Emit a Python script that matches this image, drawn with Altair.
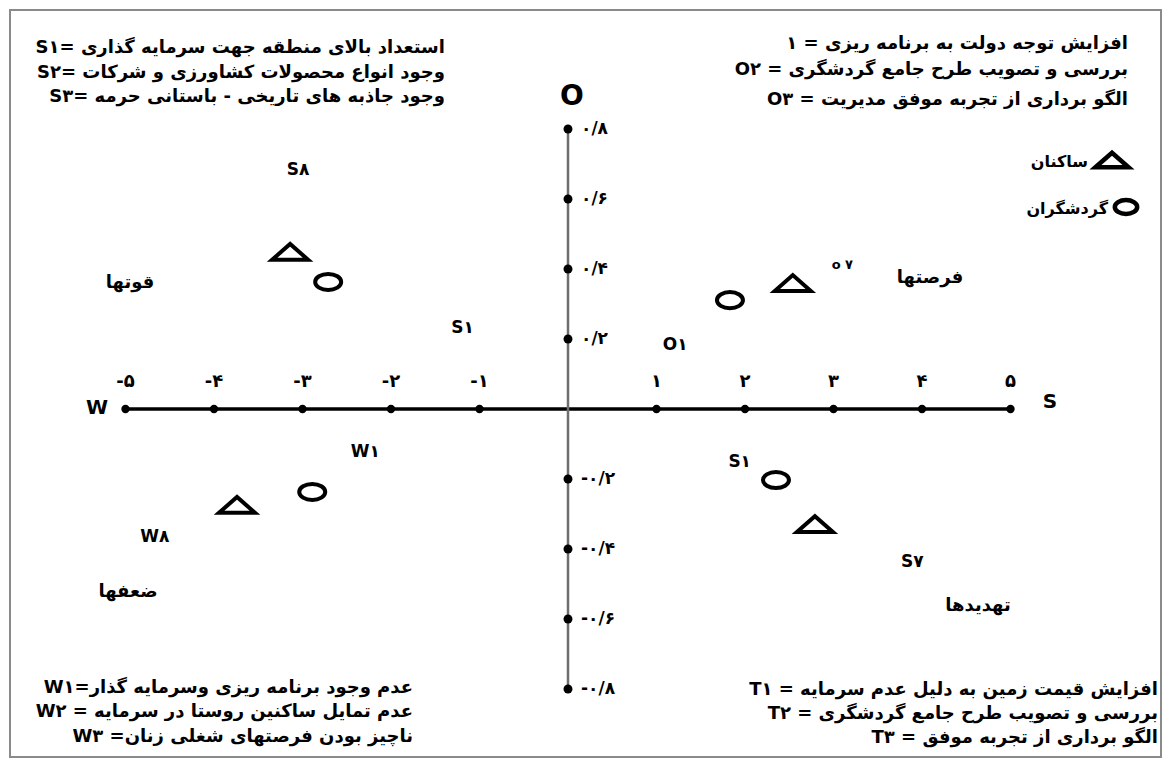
import altair as alt
import pandas as pd

# ---------------- data ----------------
x_ticks = [-5, -4, -3, -2, -1, 1, 2, 3, 4, 5]
x_tick_labels = ["-۵", "-۴", "-۳", "-۲", "-۱", "۱", "۲", "۳", "۴", "۵"]
y_ticks = [0.8, 0.6, 0.4, 0.2, -0.2, -0.4, -0.6, -0.8]
y_tick_labels = ["۰/۸", "۰/۶", "۰/۴", "۰/۲", "-۰/۲", "-۰/۴", "-۰/۶", "-۰/۸"]

# residents (ساکنان) – triangles
residents_x = [-3.14, 2.54, 2.79, -3.74]
residents_y = [0.449, 0.36, -0.329, -0.274]
# tourists (گردشگران) – circles
tourists_x = [-2.71, 1.83, 2.35, -2.89]
tourists_y = [0.363, 0.311, -0.203, -0.237]

factor_labels = ["S۸", "S۱", "O۱", "W۱", "W۸", "S۱", "S۷"]
factor_x = [-3.05, -1.19, 1.21, -2.29, -4.67, 1.94, 3.89]
factor_y = [0.683, 0.231, 0.183, -0.123, -0.366, -0.151, -0.437]
small_label = ["o ۷"]
small_label_x = [3.10]
small_label_y = [0.411]

legend_labels = ["ساکنان", "گردشگران"]

notes_strengths = [
    "S۱= استعداد بالای منطقه جهت سرمایه گذاری",
    "S۲= وجود انواع محصولات کشاورزی و شرکات",
    "S۳= وجود جاذبه های تاریخی - باستانی  حرمه",
]
notes_opportunities = [
    "۱ = افزایش توجه دولت به برنامه ریزی",
    "O۲ = بررسی و تصویب طرح جامع گردشگری",
    "O۳ = الگو برداری از تجربه موفق مدیریت",
]
notes_weaknesses = [
    "W۱=عدم وجود برنامه ریزی وسرمایه گذار",
    "W۲ = عدم تمایل ساکنین روستا در سرمایه",
    "W۳ =ناچیز بودن فرصتهای شغلی زنان",
]
notes_threats = [
    "T۱ = افزایش قیمت زمین به دلیل عدم سرمایه",
    "T۲ = بررسی و تصویب طرح جامع گردشگری",
    "T۳ = الگو برداری از تجربه موفق",
]
quadrant_titles = ["قوتها", "فرصتها", "ضعفها", "تهدیدها"]
axis_letters = ["W", "S", "O"]

# ---------------- layout ----------------
FONT = "DejaVu Sans"
LRE, PDF = "\u202a", "\u202c"   # keep left-to-right visual order of mixed lines
X0, XU = 568.0, 88.5      # page px of x=0, px per unit
Y0, YU = 409.0, 350.0     # page px of y=0, px per unit
PLOT_L, PLOT_T, PLOT_W, PLOT_H = 10, 10, 1151, 747
XD = [(PLOT_L - X0) / XU, (PLOT_L + PLOT_W - X0) / XU]
YD = [(Y0 - (PLOT_T + PLOT_H)) / YU, (Y0 - PLOT_T) / YU]


def ltr(s):
    return LRE + s + PDF


def px2x(p):
    return (p - X0) / XU


def py2y(p):
    return (Y0 - p) / YU


def X(f="x"):
    return alt.X(f"{f}:Q", scale=alt.Scale(domain=XD, nice=False, zero=False), axis=None)


def Y(f="y"):
    return alt.Y(f"{f}:Q", scale=alt.Scale(domain=YD, nice=False, zero=False), axis=None)


TRI = "M-1,0.44L0,-0.44L1,0.44Z"
ELL = "M-1,0A1,0.62,0,1,1,1,0A1,0.62,0,1,1,-1,0Z"

layers = []

# axes lines
layers.append(
    alt.Chart(pd.DataFrame({"x": [x_ticks[0]], "x2": [x_ticks[-1]], "y": [0]}))
    .mark_rule(color="black", strokeWidth=3.5)
    .encode(x=X(), x2="x2:Q", y=Y())
)
layers.append(
    alt.Chart(pd.DataFrame({"x": [0], "y": [y_ticks[-1]], "y2": [y_ticks[0]]}))
    .mark_rule(color="#6e6e6e", strokeWidth=2.5)
    .encode(x=X(), y=Y(), y2="y2:Q")
)

# tick dots
xt = pd.DataFrame({"x": x_ticks, "y": [0] * len(x_ticks), "t": [ltr(t) for t in x_tick_labels]})
yt = pd.DataFrame({"x": [0] * len(y_ticks), "y": y_ticks, "t": [ltr(t) for t in y_tick_labels]})
layers.append(alt.Chart(xt).mark_circle(color="black", size=70, opacity=1).encode(x=X(), y=Y()))
layers.append(alt.Chart(yt).mark_circle(color="black", size=80, opacity=1).encode(x=X(), y=Y()))

# tick labels
layers.append(
    alt.Chart(xt).mark_text(font=FONT, fontWeight="bold", fontSize=18, dy=-27, color="black")
    .encode(x=X(), y=Y(), text="t:N")
)
layers.append(
    alt.Chart(yt).mark_text(font=FONT, fontWeight="bold", fontSize=17, dx=13, align="left", color="black")
    .encode(x=X(), y=Y(), text="t:N")
)

# data points
res = pd.DataFrame({"x": residents_x, "y": residents_y})
tou = pd.DataFrame({"x": tourists_x, "y": tourists_y})
layers.append(
    alt.Chart(res).mark_point(shape=TRI, filled=False, stroke="black", strokeWidth=4, size=1296, opacity=1)
    .encode(x=X(), y=Y())
)
layers.append(
    alt.Chart(tou).mark_point(shape=ELL, filled=False, stroke="black", strokeWidth=4, size=676, opacity=1)
    .encode(x=X(), y=Y())
)

# factor labels
fl = pd.DataFrame({"x": factor_x, "y": factor_y, "t": [ltr(t) for t in factor_labels]})
layers.append(
    alt.Chart(fl).mark_text(font=FONT, fontWeight="bold", fontSize=17, color="black")
    .encode(x=X(), y=Y(), text="t:N")
)
sl = pd.DataFrame({"x": small_label_x, "y": small_label_y, "t": [ltr(t) for t in small_label]})
layers.append(
    alt.Chart(sl).mark_text(font=FONT, fontWeight="bold", fontSize=13, color="black")
    .encode(x=X(), y=Y(), text="t:N")
)

# legend (manual)
leg_sym_px = [(1112, 160), (1126, 207)]
leg_txt_px = [(1088, 162), (1108, 209)]
legs = pd.DataFrame({"x": [px2x(p[0]) for p in leg_sym_px], "y": [py2y(p[1]) for p in leg_sym_px]})
layers.append(
    alt.Chart(legs.iloc[[0]]).mark_point(shape=TRI, filled=False, stroke="black", strokeWidth=4.5, size=1100, opacity=1)
    .encode(x=X(), y=Y())
)
layers.append(
    alt.Chart(legs.iloc[[1]]).mark_point(shape=ELL, filled=False, stroke="black", strokeWidth=4.5, size=500, opacity=1)
    .encode(x=X(), y=Y())
)
legt = pd.DataFrame({"x": [px2x(p[0]) for p in leg_txt_px], "y": [py2y(p[1]) for p in leg_txt_px], "t": legend_labels})
layers.append(
    alt.Chart(legt).mark_text(font=FONT, fontWeight="bold", fontSize=16, align="right", color="black")
    .encode(x=X(), y=Y(), text="t:N")
)

# note blocks (right aligned)
blocks = [
    (notes_strengths, 445, [48, 73, 97]),
    (notes_opportunities, 1128, [44, 70, 100]),
    (notes_weaknesses, 413, [688, 712, 737]),
    (notes_threats, 1158, [690, 714, 738]),
]
rows = []
for lines, right, ys in blocks:
    for line, yy in zip(lines, ys):
        rows.append({"x": px2x(right), "y": py2y(yy), "t": ltr(line)})
notes = pd.DataFrame(rows)
layers.append(
    alt.Chart(notes).mark_text(font=FONT, fontWeight="bold", fontSize=18, align="right", color="black")
    .encode(x=X(), y=Y(), text="t:N")
)

# quadrant titles
qpx = [(130, 283), (930, 278), (128, 592), (978, 606)]
qt = pd.DataFrame({"x": [px2x(p[0]) for p in qpx], "y": [py2y(p[1]) for p in qpx], "t": quadrant_titles})
layers.append(
    alt.Chart(qt).mark_text(font=FONT, fontWeight="bold", fontSize=18, color="black")
    .encode(x=X(), y=Y(), text="t:N")
)

# axis end letters
apx = [(97, 408), (1050, 402), (572, 97)]
asz = [20, 20, 28]
for (p, s, letter) in zip(apx, asz, axis_letters):
    layers.append(
        alt.Chart(pd.DataFrame({"x": [px2x(p[0])], "y": [py2y(p[1])], "t": [letter]}))
        .mark_text(font=FONT, fontWeight="bold", fontSize=s, color="black")
        .encode(x=X(), y=Y(), text="t:N")
    )

chart = (
    alt.layer(*layers)
    .properties(
        width=PLOT_W,
        height=PLOT_H,
        padding={"left": 2, "top": 2, "right": 2, "bottom": 2},
        autosize=alt.AutoSizeParams(type="none"),
        background="white",
    )
    .configure_view(stroke="#8a8a8a", strokeWidth=2)
)

chart.save("out.html", embed_options={"renderer": "svg", "actions": False})
